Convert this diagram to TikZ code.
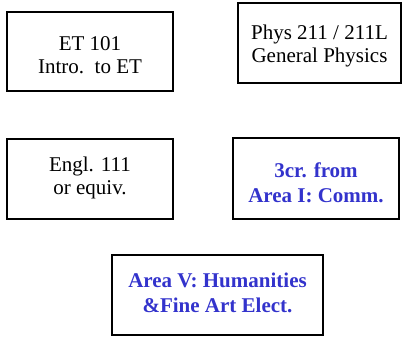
\documentclass[tikz,border=0pt]{standalone}
\usepackage{fontspec}
\setmainfont{Liberation Serif}
\definecolor{areablue}{RGB}{51,51,204}

\begin{document}
\begin{tikzpicture}[x=1pt,y=-1pt,
  box/.style={draw=black, line width=2pt, inner sep=0pt},
  course/.style={align=center, inner sep=0pt, font=\rmfamily\fontsize{21}{23}\selectfont},
  area/.style={course, text=areablue, font=\rmfamily\bfseries\fontsize{21}{25}\selectfont}]
  \useasboundingbox (0,0) rectangle (402,338);
  \node[box, minimum width=166pt, minimum height=79pt] (et101) at (90,51.5) {};
  \node[box, minimum width=163pt, minimum height=80pt] (phys) at (319.5,43) {};
  \node[box, minimum width=166pt, minimum height=80pt] (engl) at (90,179) {};
  \node[box, minimum width=166pt, minimum height=81pt] (comm) at (316,178.5) {};
  \node[box, minimum width=211pt, minimum height=80pt] (hum) at (217.5,295) {};
  \node[course] (et101txt) at ([yshift=-4pt]et101.center) {ET 101\\Intro.\ \ to ET};
  \node[course] (phystxt) at ([yshift=-2.5pt]phys.center) {Phys 211 / 211L\\General Physics};
  \node[course] (engltxt) at ([yshift=1pt]engl.center) {Engl. 111\\or equiv.};
  \node[area] (commtxt) at ([yshift=-4pt]comm.center) {3cr. from\\Area I: Comm.};
  \node[area] (humtxt) at ([yshift=2pt]hum.center) {Area V: Humanities\\\&Fine Art Elect.};
\end{tikzpicture}
\end{document}
